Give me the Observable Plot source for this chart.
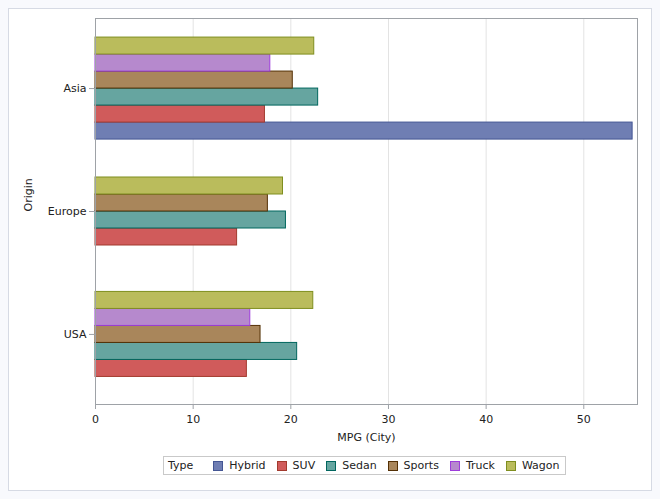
<!DOCTYPE html>
<html>
<head>
<meta charset="utf-8">
<script src="https://cdn.jsdelivr.net/npm/d3@7"></script>
<script src="https://cdn.jsdelivr.net/npm/@observablehq/plot@0.6"></script>
<style>
  html, body { margin: 0; padding: 0; }
  body { width: 660px; height: 499px; background: #f8f9fd; position: relative; overflow: hidden;
         font-family: "DejaVu Sans", sans-serif; }
  #panel { position: absolute; left: 8px; top: 8px; width: 642px; height: 481px;
           background: #ffffff; border: 1px solid #d6dae4; }
  #chart { position: absolute; left: 0; top: 0; }
  #legend { position: absolute; left: 163px; top: 456px; height: 19px; box-sizing: border-box;
            border: 1px solid #c9c9c9; background: #fff; display: flex; align-items: center;
            padding: 0 5px 0 4px; font-size: 11px; color: #222; white-space: nowrap; }
  #legend .title { margin-right: 20px; }
  #legend .sw { width: 10px; height: 10px; box-sizing: border-box; border: 1px solid; margin-right: 6px; }
  #legend .lab { margin-right: 11px; }
  #legend .lab:last-child { margin-right: 0; }
</style>
</head>
<body>
<div id="panel"></div>
<div id="chart"></div>
<div id="legend"></div>
<script>
// ---- data ----
const origins = ["Asia", "Europe", "USA"];
const types = ["Hybrid", "SUV", "Sedan", "Sports", "Truck", "Wagon"];
const asiaMPG   = [55.0, 17.35, 22.8, 20.2, 17.9, 22.4];
const europeMPG = [null, 14.5, 19.5, 17.65, null, 19.2];
const usaMPG    = [null, 15.5, 20.65, 16.9, 15.85, 22.3];
const xTicks = [0, 10, 20, 30, 40, 50];
const xLabel = "MPG (City)";
const yLabel = "Origin";
const legendTitle = "Type";

// ---- styles ----
const fills   = ["#6f7eb3", "#d05b5b", "#66a5a0", "#a9865b", "#b689cd", "#babc5c"];
const strokes = ["#445694", "#a23a2e", "#01665e", "#543005", "#9d3cdb", "#7f8e1f"];
const fillOf = Object.fromEntries(types.map((t, i) => [t, fills[i]]));
const strokeOf = Object.fromEntries(types.map((t, i) => [t, strokes[i]]));

// ---- build rows: compact groups centred on each origin ----
const h = 0.1383; // bar thickness in origin-band units
const byOrigin = [asiaMPG, europeMPG, usaMPG];
const rows = [];
origins.forEach((o, k) => {
  const present = types.map((t, i) => ({ t, v: byOrigin[k][i] })).filter(d => d.v != null);
  const n = present.length;
  present.forEach((d, i) => {
    const j = n - 1 - i; // first type at the bottom
    const c = k + (j - (n - 1) / 2) * h;
    rows.push({ origin: o, type: d.t, value: d.v, y1: c - h / 2, y2: c + h / 2 });
  });
});

const textColor = "#222";
const axisColor = "#9ea2a7";

const chart = Plot.plot({
  width: 660,
  height: 450,
  marginLeft: 95,
  marginRight: 23,
  marginTop: 18,
  marginBottom: 46,
  style: { background: "none", fontFamily: "DejaVu Sans, sans-serif", fontSize: "11px", color: textColor },
  x: { domain: [0, 55.5] },
  y: { domain: [-0.57, 2.57], reverse: true },
  color: { type: "identity" },
  marks: [
    Plot.gridX(xTicks.slice(1), { stroke: "#e3e3e3", strokeOpacity: 1 }),
    Plot.rect(rows, {
      x1: 0, x2: "value", y1: "y1", y2: "y2",
      fill: d => fillOf[d.type], stroke: d => strokeOf[d.type], strokeWidth: 1
    }),
    Plot.frame({ stroke: axisColor }),
    Plot.axisX({ ticks: xTicks, tickSize: 5, tickPadding: 6, stroke: axisColor, fill: textColor, label: null }),
    Plot.axisY({ ticks: [0, 1, 2], tickFormat: i => origins[i], tickSize: 6, tickPadding: 3,
                 stroke: axisColor, fill: textColor, label: null }),
    Plot.text([xLabel], { text: d => d, frameAnchor: "bottom", dy: 36, fill: textColor, fontSize: 11 }),
    Plot.text([yLabel], { text: d => d, frameAnchor: "left", dx: -67, rotate: -90, fill: textColor, fontSize: 11 })
  ]
});
document.getElementById("chart").appendChild(chart);

// ---- legend ----
const leg = document.getElementById("legend");
const title = document.createElement("span");
title.className = "title";
title.textContent = legendTitle;
leg.appendChild(title);
types.forEach((t, i) => {
  const sw = document.createElement("span");
  sw.className = "sw";
  sw.style.background = fills[i];
  sw.style.borderColor = strokes[i];
  leg.appendChild(sw);
  const lab = document.createElement("span");
  lab.className = "lab";
  lab.textContent = t;
  leg.appendChild(lab);
});
</script>
</body>
</html>
